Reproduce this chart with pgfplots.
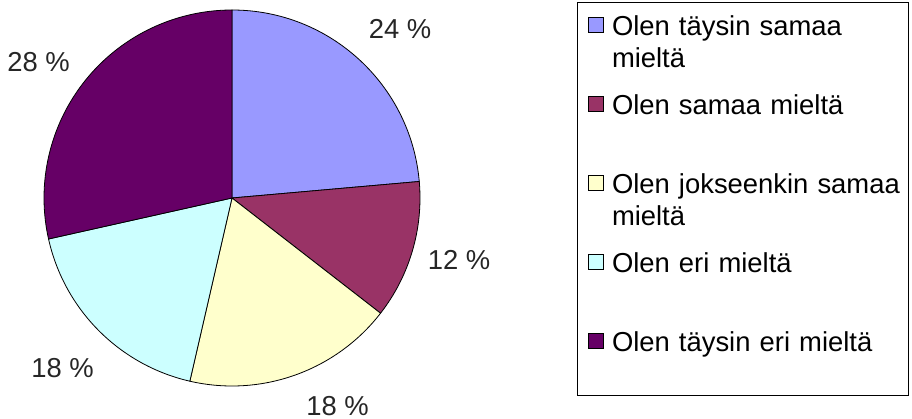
\documentclass[border=0pt]{standalone}
\usepackage{pgfplots}
\pgfplotsset{compat=1.18}
\usepackage{pgfplotstable}
\usepackage{fontspec}
\setmainfont{Liberation Sans}
\definecolor{c0}{HTML}{9999FF}
\definecolor{c1}{HTML}{993366}
\definecolor{c2}{HTML}{FFFFCC}
\definecolor{c3}{HTML}{CCFFFF}
\definecolor{c4}{HTML}{660066}
\pgfplotstableread{
share lab lx ly
23.6 24 400 380
11.9 12 459 149
18.1 18 337.5 4
17.9 18 62.5 41
28.5 28 38.5 347
}\piedata
\begin{document}
\begin{tikzpicture}
\xdef\cum{0}
\pgfplotstableforeachcolumnelement{share}\of\piedata\as\v{%
  \pgfmathsetmacro{\s}{90-3.6*\cum}%
  \pgfmathsetmacro{\cumnew}{\cum+\v}%
  \pgfmathsetmacro{\e}{90-3.6*\cumnew}%
  \expandafter\xdef\csname sa\pgfplotstablerow\endcsname{\s}%
  \expandafter\xdef\csname ea\pgfplotstablerow\endcsname{\e}%
  \xdef\cum{\cumnew}%
}
\begin{axis}[
  scale only axis, width=912bp, height=419bp,
  xmin=0, xmax=912, ymin=0, ymax=419,
  axis line style={draw=none}, ticks=none, clip=false,
  font=\fontsize{27.5}{32}\selectfont,
  legend style={at={(axis cs:577,417)}, anchor=north west, draw=black,
    line width=0.8bp, inner xsep=6bp, inner ysep=0bp, outer sep=0pt,
    row sep=1.5bp, column sep=9bp,
    font=\fontsize{27.5}{32}\selectfont,
    nodes={inner sep=0pt, text height=34bp, text depth=43.5bp, align=left, text width=290bp}},
  legend cell align=left,
  legend image code/.code={\path[draw=none, fill=none] (0bp,0bp) rectangle (20bp,18.5bp); \draw[#1, line width=0.8bp, overlay] (5bp,8.5bp) rectangle (20bp,23.5bp);},
]
\path (rel axis cs:0,0) rectangle (rel axis cs:1,1);
\pgfplotsinvokeforeach{0,...,4}{%
  \filldraw[fill=c#1, draw=black, line width=0.8bp, line join=round]
    (axis cs:232,221) -- ++(\csname sa#1\endcsname:188bp)
    arc[start angle=\csname sa#1\endcsname, end angle=\csname ea#1\endcsname, radius=188bp] -- cycle;
}
\addplot[draw=none, forget plot, point meta=explicit symbolic,
  nodes near coords={\pgfplotspointmeta\ \%},
  nodes near coords align={anchor=base},
  every node near coord/.append style={inner sep=0pt, font=\fontsize{27.5}{32}\selectfont, text=black!85}]
  table[x=lx, y=ly, meta=lab] {\piedata};
\addlegendimage{fill=c0, draw=black}
\addlegendentry{Olen täysin samaa\\mieltä}
\addlegendimage{fill=c1, draw=black}
\addlegendentry{Olen samaa mieltä}
\addlegendimage{fill=c2, draw=black}
\addlegendentry{Olen jokseenkin samaa\\mieltä}
\addlegendimage{fill=c3, draw=black}
\addlegendentry{Olen eri mieltä}
\addlegendimage{fill=c4, draw=black}
\addlegendentry{Olen täysin eri mieltä}
\end{axis}
\end{tikzpicture}
\end{document}
